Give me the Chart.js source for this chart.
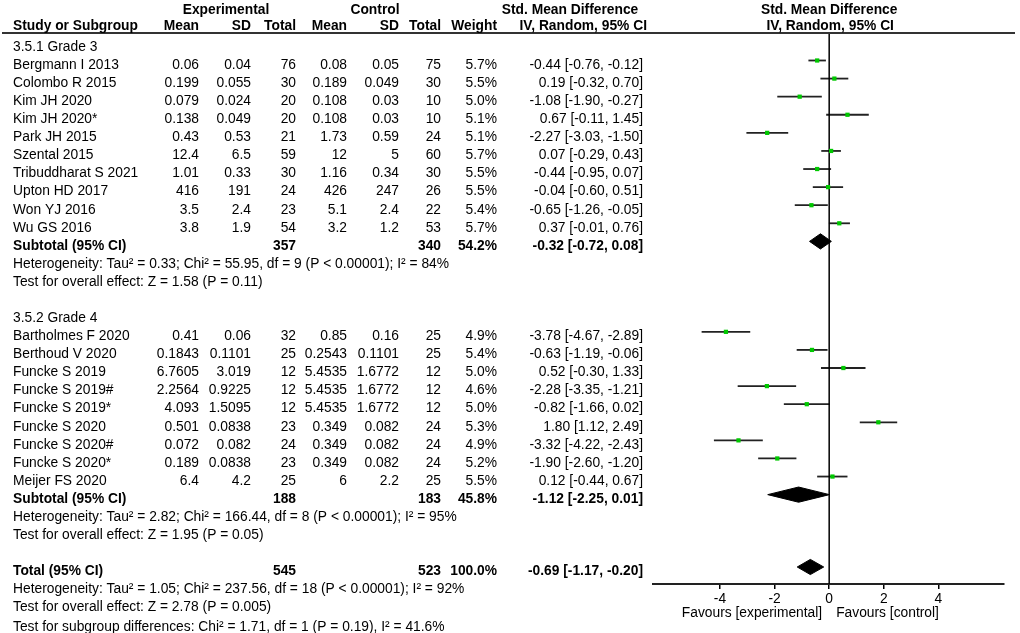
<!DOCTYPE html>
<html>
<head>
<meta charset="utf-8">
<script src="https://cdn.jsdelivr.net/npm/chart.js@4.4.0/dist/chart.umd.min.js"></script>
<style>
  html, body { margin: 0; padding: 0; background: #fff; }
  canvas { display: block; }
</style>
</head>
<body>
<canvas id="forest" width="1020" height="633"></canvas>
<script>
// Grade 3 studies
const g3Names = ['Bergmann I 2013', 'Colombo R 2015', 'Kim JH 2020', 'Kim JH 2020*', 'Park JH 2015',
    'Szental 2015', 'Tribuddharat S 2021', 'Upton HD 2017', 'Won YJ 2016', 'Wu GS 2016'];
const g3ExpMean = [0.06, 0.199, 0.079, 0.138, 0.43, 12.4, 1.01, 416, 3.5, 3.8];
const g3ExpSD = [0.04, 0.055, 0.024, 0.049, 0.53, 6.5, 0.33, 191, 2.4, 1.9];
const g3ExpN = [76, 30, 20, 20, 21, 59, 30, 24, 23, 54];
const g3CtlMean = [0.08, 0.189, 0.108, 0.108, 1.73, 12, 1.16, 426, 5.1, 3.2];
const g3CtlSD = [0.05, 0.049, 0.03, 0.03, 0.59, 5, 0.34, 247, 2.4, 1.2];
const g3CtlN = [75, 30, 10, 10, 24, 60, 30, 26, 22, 53];
const g3Weight = [5.7, 5.5, 5.0, 5.1, 5.1, 5.7, 5.5, 5.5, 5.4, 5.7];
const g3Smd = [-0.44, 0.19, -1.08, 0.67, -2.27, 0.07, -0.44, -0.04, -0.65, 0.37];
const g3Lo = [-0.76, -0.32, -1.90, -0.11, -3.03, -0.29, -0.95, -0.60, -1.26, -0.01];
const g3Hi = [-0.12, 0.70, -0.27, 1.45, -1.50, 0.43, 0.07, 0.51, -0.05, 0.76];

// Grade 4 studies
const g4Names = ['Bartholmes F 2020', 'Berthoud V 2020', 'Funcke S 2019', 'Funcke S 2019#', 'Funcke S 2019*',
    'Funcke S 2020', 'Funcke S 2020#', 'Funcke S 2020*', 'Meijer FS 2020'];
const g4ExpMean = [0.41, 0.1843, 6.7605, 2.2564, 4.093, 0.501, 0.072, 0.189, 6.4];
const g4ExpSD = [0.06, 0.1101, 3.019, 0.9225, 1.5095, 0.0838, 0.082, 0.0838, 4.2];
const g4ExpN = [32, 25, 12, 12, 12, 23, 24, 23, 25];
const g4CtlMean = [0.85, 0.2543, 5.4535, 5.4535, 5.4535, 0.349, 0.349, 0.349, 6];
const g4CtlSD = [0.16, 0.1101, 1.6772, 1.6772, 1.6772, 0.082, 0.082, 0.082, 2.2];
const g4CtlN = [25, 25, 12, 12, 12, 24, 24, 24, 25];
const g4Weight = [4.9, 5.4, 5.0, 4.6, 5.0, 5.3, 4.9, 5.2, 5.5];
const g4Smd = [-3.78, -0.63, 0.52, -2.28, -0.82, 1.80, -3.32, -1.90, 0.12];
const g4Lo = [-4.67, -1.19, -0.30, -3.35, -1.66, 1.12, -4.22, -2.60, -0.44];
const g4Hi = [-2.89, -0.06, 1.33, -1.21, 0.02, 2.49, -2.43, -1.20, 0.67];

// Subtotals and total
const sumLabels = ['Subtotal (95% CI)', 'Subtotal (95% CI)', 'Total (95% CI)'];
const sumExpN = [357, 188, 545];
const sumCtlN = [340, 183, 523];
const sumWeight = [54.2, 45.8, 100.0];
const sumSmd = [-0.32, -1.12, -0.69];
const sumLo = [-0.72, -2.25, -1.17];
const sumHi = [0.08, 0.01, -0.20];
const heterogeneity = [
    'Heterogeneity: Tau² = 0.33; Chi² = 55.95, df = 9 (P < 0.00001); I² = 84%',
    'Heterogeneity: Tau² = 2.82; Chi² = 166.44, df = 8 (P < 0.00001); I² = 95%',
    'Heterogeneity: Tau² = 1.05; Chi² = 237.56, df = 18 (P < 0.00001); I² = 92%'
];
const overallEffect = [
    'Test for overall effect: Z = 1.58 (P = 0.11)',
    'Test for overall effect: Z = 1.95 (P = 0.05)',
    'Test for overall effect: Z = 2.78 (P = 0.005)'
];
const subgroupTest = 'Test for subgroup differences: Chi² = 1.71, df = 1 (P = 0.19), I² = 41.6%';
const groupLabels = ['3.5.1 Grade 3', '3.5.2 Grade 4'];
const xTicks = [-4, -2, 0, 2, 4];

// row layout (row units on the y scale)
const g3Start = 0;
const g4Start = 15;
const sumRows = [10, 24, 28];
const groupRows = [-1, 14];

const FONT = '"Liberation Sans", Arial, sans-serif';
const FONT_SIZE = 13.8;
const DIAMOND_H = 0.42;
const TEXT_DY = 4.5;

// column right edges
const COL = { em: 199, es: 251, en: 296, cm: 347, cs: 399, cn: 441, w: 497, ci: 643 };

const ciDatasets = [];
const points = [];
function addStudies(smd, lo, hi, start) {
    smd.forEach(function(v, i) {
        ciDatasets.push({
            data: [{ x: lo[i], y: start + i }, { x: hi[i], y: start + i }],
            showLine: true,
            borderColor: '#222',
            borderWidth: 1.8,
            pointRadius: 0,
        });
        points.push({ x: v, y: start + i });
    });
}
addStudies(g3Smd, g3Lo, g3Hi, g3Start);
addStudies(g4Smd, g4Lo, g4Hi, g4Start);

const diamondDatasets = sumSmd.map(function(est, i) {
    const r = sumRows[i];
    return {
        data: [
            { x: sumLo[i], y: r }, { x: est, y: r - DIAMOND_H },
            { x: sumHi[i], y: r }, { x: est, y: r + DIAMOND_H }, { x: sumLo[i], y: r }
        ],
        showLine: true,
        fill: 'shape',
        backgroundColor: '#000',
        borderColor: '#000',
        borderWidth: 1,
        pointRadius: 0,
        tension: 0,
    };
});

const tablePlugin = {
    id: 'forestTable',
    afterDraw(chart) {
        const ctx = chart.ctx;
        const ys = chart.scales.y;
        const xs = chart.scales.x;
        const area = chart.chartArea;
        const rowY = r => ys.getPixelForValue(r) + TEXT_DY;

        function txt(s, x, y, align, bold) {
            ctx.font = (bold ? 'bold ' : '') + FONT_SIZE + 'px ' + FONT;
            ctx.textAlign = align;
            ctx.fillText(s, x, y);
        }

        ctx.save();
        ctx.fillStyle = '#000';
        ctx.textBaseline = 'middle';

        // header line
        ctx.strokeStyle = '#333';
        ctx.lineWidth = 2;
        ctx.beginPath();
        ctx.moveTo(2, area.top);
        ctx.lineTo(1015, area.top);
        ctx.stroke();

        // column headers
        const h1 = area.top - 23, h2 = area.top - 7;
        const x0 = xs.getPixelForValue(0);
        txt('Experimental', 226, h1, 'center', true);
        txt('Control', 375, h1, 'center', true);
        txt('Std. Mean Difference', 570, h1, 'center', true);
        txt('Std. Mean Difference', x0, h1, 'center', true);
        txt('Study or Subgroup', 13, h2, 'left', true);
        txt('Mean', COL.em, h2, 'right', true);
        txt('SD', COL.es, h2, 'right', true);
        txt('Total', COL.en, h2, 'right', true);
        txt('Mean', COL.cm, h2, 'right', true);
        txt('SD', COL.cs, h2, 'right', true);
        txt('Total', COL.cn, h2, 'right', true);
        txt('Weight', COL.w, h2, 'right', true);
        txt('IV, Random, 95% CI', COL.ci + 4, h2, 'right', true);
        txt('IV, Random, 95% CI', x0 + 1, h2, 'center', true);

        function ciText(e, l, h) {
            return e.toFixed(2) + ' [' + l.toFixed(2) + ', ' + h.toFixed(2) + ']';
        }

        function studyRows(names, em, es, en, cm, cs, cn, w, smd, lo, hi, start) {
            names.forEach(function(name, i) {
                const y = rowY(start + i);
                txt(name, 13, y, 'left', false);
                txt(String(em[i]), COL.em, y, 'right', false);
                txt(String(es[i]), COL.es, y, 'right', false);
                txt(String(en[i]), COL.en, y, 'right', false);
                txt(String(cm[i]), COL.cm, y, 'right', false);
                txt(String(cs[i]), COL.cs, y, 'right', false);
                txt(String(cn[i]), COL.cn, y, 'right', false);
                txt(w[i].toFixed(1) + '%', COL.w, y, 'right', false);
                txt(ciText(smd[i], lo[i], hi[i]), COL.ci, y, 'right', false);
            });
        }

        txt(groupLabels[0], 13, rowY(groupRows[0]), 'left', false);
        studyRows(g3Names, g3ExpMean, g3ExpSD, g3ExpN, g3CtlMean, g3CtlSD, g3CtlN, g3Weight, g3Smd, g3Lo, g3Hi, g3Start);
        txt(groupLabels[1], 13, rowY(groupRows[1]), 'left', false);
        studyRows(g4Names, g4ExpMean, g4ExpSD, g4ExpN, g4CtlMean, g4CtlSD, g4CtlN, g4Weight, g4Smd, g4Lo, g4Hi, g4Start);

        sumLabels.forEach(function(label, i) {
            const r = sumRows[i];
            const y = rowY(r);
            txt(label, 13, y, 'left', true);
            txt(String(sumExpN[i]), COL.en, y, 'right', true);
            txt(String(sumCtlN[i]), COL.cn, y, 'right', true);
            txt(sumWeight[i].toFixed(1) + '%', COL.w, y, 'right', true);
            txt(ciText(sumSmd[i], sumLo[i], sumHi[i]), COL.ci, y, 'right', true);
            txt(heterogeneity[i], 13, rowY(r + 1), 'left', false);
            txt(overallEffect[i], 13, rowY(r + 2), 'left', false);
        });
        txt(subgroupTest, 13, rowY(sumRows[2] + 3) + 1.5, 'left', false);

        // favours labels under the axis
        txt('Favours [experimental]', x0 - 7, 613, 'right', false);
        txt('Favours [control]', x0 + 7, 613, 'left', false);

        ctx.restore();
    }
};

const ctx = document.getElementById('forest').getContext('2d');
const forestChart = new Chart(ctx, {
    type: 'scatter',
    data: {
        datasets: [
            {
                // line of no effect
                data: [{ x: 0, y: -1.6 }, { x: 0, y: 29 }],
                showLine: true,
                borderColor: '#000',
                borderWidth: 1.5,
                pointRadius: 0,
            },
            ...ciDatasets,
            {
                data: points,
                order: -1,
                pointStyle: 'rect',
                pointRadius: 3,
                backgroundColor: '#00c800',
                borderColor: '#00c800',
                borderWidth: 0,
            },
            ...diamondDatasets,
        ],
    },
    options: {
        responsive: false,
        animation: false,
        events: [],
        layout: {
            padding: { left: 653, right: 16, top: 33, bottom: 29 },
        },
        plugins: {
            legend: { display: false },
            tooltip: { enabled: false },
        },
        scales: {
            x: {
                type: 'linear',
                min: -6.45,
                max: 6.4,
                afterBuildTicks: function(scale) {
                    scale.ticks = xTicks.map(v => ({ value: v }));
                },
                afterFit: function(scale) {
                    scale.height = 20;
                },
                grid: {
                    drawOnChartArea: false,
                    drawTicks: true,
                    tickLength: 5,
                    color: '#000',
                    lineWidth: 1.5,
                },
                border: { display: true, color: '#222', width: 2 },
                ticks: {
                    color: '#000',
                    padding: 2,
                    font: { family: FONT, size: FONT_SIZE },
                },
            },
            y: {
                type: 'linear',
                display: false,
                reverse: true,
                min: -1.52,
                max: 28.94,
            },
        },
    },
    plugins: [tablePlugin],
});
</script>
</body>
</html>
